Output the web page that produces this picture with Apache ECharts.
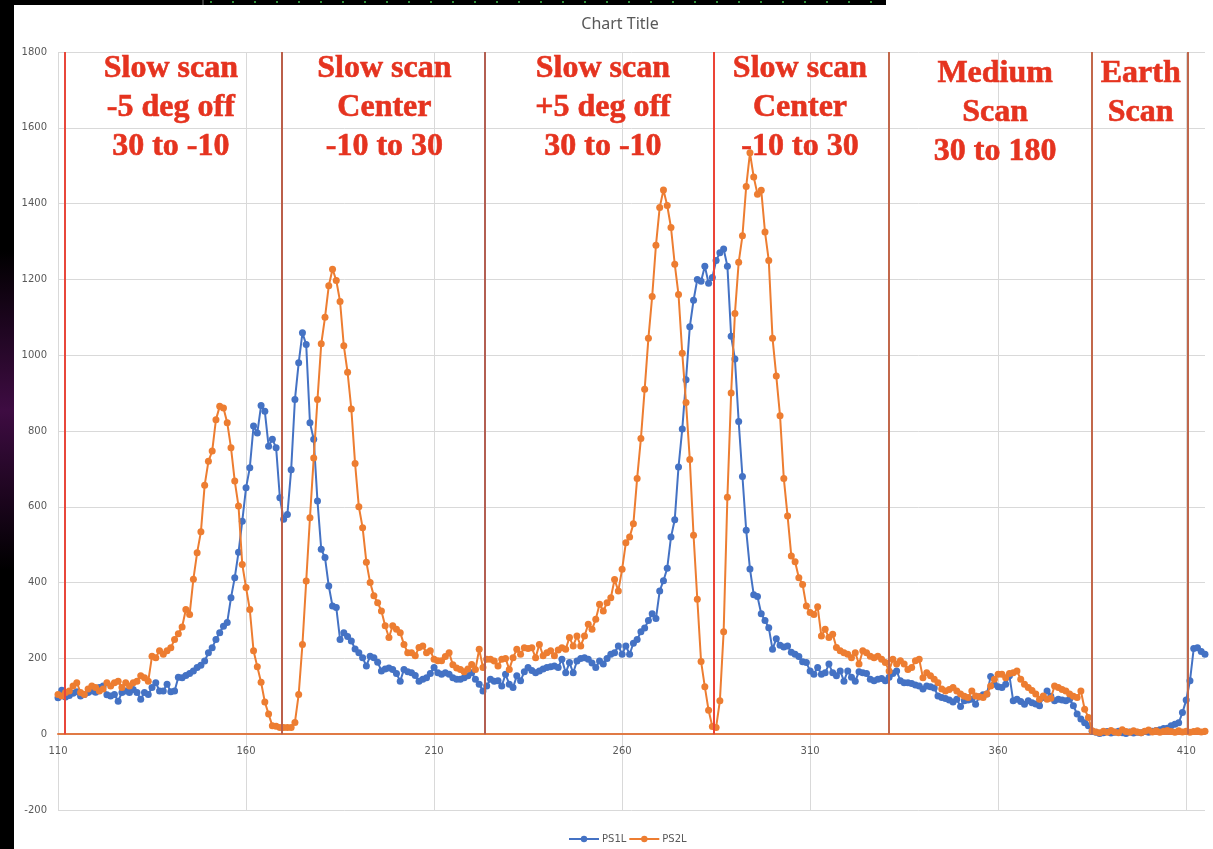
<!DOCTYPE html>
<html>
<head>
<meta charset="utf-8">
<title>PS1L / PS2L scan</title>
<script src="https://cdn.jsdelivr.net/npm/echarts@6/dist/echarts.min.js"></script>
<style>
  html, body { margin: 0; padding: 0; background: #000; }
  #chart { width: 1213px; height: 849px; }
</style>
</head>
<body>
<div id="chart"></div>
<script>
// Sample index 0 corresponds to position 110; one sample per unit step.
const firstSample = 110;

// PS1L readings, positions 110 … 415
const ps1l = [
  96, 116, 98, 102, 108, 112, 101, 105, 110, 114,
  111, 123, 127, 104, 101, 105, 87, 110, 114, 110,
  118, 110, 92, 110, 105, 123, 136, 114, 114, 132,
  112, 114, 150, 149, 155, 160, 167, 176, 182, 193,
  215, 228, 250, 268, 285, 295, 360, 413, 480, 562,
  650, 703, 813, 795, 867, 852, 760, 778, 756, 624,
  567, 580, 698, 883, 980, 1059, 1028, 822, 778, 615,
  488, 466, 391, 338, 334, 250, 268, 258, 246, 225,
  215, 202, 180, 206, 202, 190, 167, 172, 175, 171,
  160, 140, 171, 165, 162, 155, 140, 145, 149, 160,
  176, 162, 158, 162, 158, 149, 145, 145, 149, 154,
  162, 145, 132, 114, 127, 145, 140, 141, 127, 158,
  132, 123, 154, 141, 165, 176, 168, 162, 167, 172,
  176, 178, 180, 176, 198, 162, 189, 162, 193, 200,
  202, 198, 188, 176, 193, 185, 200, 211, 215, 233,
  211, 233, 211, 240, 250, 270, 280, 300, 318, 305,
  378, 405, 438, 520, 566, 705, 805, 935, 1075, 1145,
  1200, 1195, 1235, 1190, 1205, 1250, 1270, 1280, 1235, 1050,
  990, 825, 680, 538, 436, 368, 363, 318, 300, 281,
  224, 252, 235, 230, 233, 216, 211, 205, 191, 189,
  167, 158, 176, 158, 162, 185, 162, 154, 167, 140,
  167, 150, 140, 165, 162, 160, 145, 141, 145, 147,
  141, 150, 160, 167, 141, 136, 136, 134, 130, 127,
  119, 127, 125, 122, 101, 97, 94, 90, 85, 92,
  73, 88, 90, 92, 79, 99, 104, 106, 152, 132,
  125, 123, 132, 154, 88, 92, 86, 79, 88, 83,
  80, 75, 97, 114, 100, 88, 92, 90, 88, 92,
  75, 53, 40, 30, 22, 8, 5, 2, 4, 7,
  3, 5, 8, 4, 2, 6, 3, 5, 4, 7,
  5, 8, 10, 12, 15, 16, 22, 26, 30, 57,
  90, 141, 226, 228, 218, 211
];

// PS2L readings, positions 110 … 415
const ps2l = [
  105, 101, 110, 114, 127, 136, 110, 105, 119, 127,
  123, 114, 119, 136, 127, 136, 140, 123, 136, 127,
  136, 140, 154, 149, 140, 206, 202, 220, 211, 220,
  228, 250, 265, 283, 329, 316, 409, 479, 534, 657,
  720, 747, 830, 865, 861, 822, 756, 668, 602, 448,
  387, 329, 220, 178, 137, 85, 53, 22, 21, 18,
  18, 18, 18, 31, 105, 237, 404, 571, 729, 883,
  1030, 1100, 1183, 1227, 1197, 1142, 1025, 955, 858, 714,
  600, 545, 454, 400, 365, 347, 325, 286, 255, 286,
  277, 268, 237, 215, 215, 207, 229, 233, 215, 220,
  198, 194, 194, 205, 215, 183, 175, 171, 165, 172,
  184, 171, 224, 176, 198, 198, 193, 180, 198, 200,
  171, 202, 224, 211, 228, 226, 228, 202, 237, 207,
  215, 220, 207, 222, 228, 224, 255, 233, 259, 233,
  259, 290, 277, 303, 343, 325, 347, 360, 408, 378,
  435, 505, 520, 555, 675, 780, 910, 1045, 1155, 1290,
  1390, 1436, 1395, 1337, 1240, 1160, 1005, 875, 725, 525,
  356, 192, 125, 63, 20, 18, 88, 270, 625, 900,
  1110, 1245, 1315, 1445, 1534, 1470, 1425, 1435, 1325, 1250,
  1045, 945, 840, 675, 576, 470, 455, 413, 395, 338,
  321, 316, 336, 259, 277, 255, 264, 229, 220, 215,
  211, 202, 215, 185, 220, 215, 206, 202, 206, 198,
  189, 167, 198, 185, 194, 185, 171, 176, 194, 198,
  149, 162, 154, 145, 136, 119, 114, 118, 123, 114,
  106, 100, 97, 114, 101, 99, 97, 106, 127, 145,
  158, 158, 149, 160, 162, 167, 145, 132, 123, 115,
  106, 92, 101, 92, 95, 127, 123, 118, 114, 106,
  100, 97, 114, 66, 44, 9, 6, 4, 8, 5,
  10, 6, 4, 12, 7, 5, 9, 6, 4, 8,
  11, 6, 9, 5, 8, 10, 7, 5, 9, 6,
  8, 5, 7, 9, 6, 8
];

// Scan segment boundaries (x position) and segment captions
const sectionEdges = [111.9, 169.4, 223.4, 284.4, 331.0, 384.8, 410.3];
const sectionTitles = [
  'Slow scan\n-5 deg off\n30 to -10',
  'Slow scan\nCenter\n-10 to 30',
  'Slow scan\n+5 deg off\n30 to -10',
  'Slow scan\nCenter\n-10 to 30',
  'Medium\nScan\n30 to 180',
  'Earth\nScan'
];
const sectionTitleAt = [
  [140.0, 1652], [196.8, 1652], [254.9, 1652],
  [307.3, 1652], [359.2, 1639], [397.9, 1690]
];

const edgeColors = ['#e8473b', '#bb5f4a', '#b35f52', '#ec4436', '#c2684b', '#c2684b', '#c0674c'];
const blue = '#4472C4';
const orange = '#ED7D31';
const captionRed = '#e5331f';
const axisText = { color: '#595959', fontSize: 10, fontFamily: 'DejaVu Sans' };

// grid geometry: the category axis sits on the value 0
const gridTop = 52, gridBottom = 39, chartHeight = 849;
const yMin = -200, yMax = 1800;
const zeroOffset = (chartHeight - gridTop - gridBottom) * (0 - yMin) / (yMax - yMin);

const toPoints = arr => arr.map((v, i) => [firstSample + i, v]);

const chart = echarts.init(document.getElementById('chart'), null, { renderer: 'canvas' });

chart.setOption({
  animation: false,
  backgroundColor: '#ffffff',
  graphic: [
    // dark surround at the left and top edge
    { type: 'rect', z: 100, silent: true, shape: { x: 0, y: 0, width: 14, height: 849 }, style: { fill: '#000' } },
    { type: 'rect', z: 101, silent: true, shape: { x: 0, y: 250, width: 14, height: 320 },
      style: { fill: new echarts.graphic.LinearGradient(0, 0, 0, 1, [
        { offset: 0, color: '#000' }, { offset: 0.5, color: '#3e0c42' }, { offset: 1, color: '#000' }
      ]) } },
    { type: 'rect', z: 100, silent: true, shape: { x: 0, y: 0, width: 886, height: 5 }, style: { fill: '#000' } },
    { type: 'line', z: 102, silent: true, shape: { x1: 210, y1: 2, x2: 880, y2: 2 },
      style: { stroke: '#2f8f3a', lineWidth: 2, lineDash: [2, 20] } },
    { type: 'line', z: 102, silent: true, shape: { x1: 203, y1: 0, x2: 203, y2: 5 },
      style: { stroke: '#777', lineWidth: 1 } },
    // chart title
    { type: 'text', z: 10, x: 620, y: 24,
      style: { text: 'Chart Title', fill: '#595959', fontSize: 16, fontFamily: 'Noto Sans',
               align: 'center', verticalAlign: 'middle' } }
  ],
  grid: { left: 58, right: 8, top: gridTop, bottom: gridBottom, containLabel: false, outerBoundsMode: 'none' },
  legend: {
    data: ['PS1L', 'PS2L'],
    left: 563, top: 829,
    itemWidth: 30, itemHeight: 8, itemGap: 2,
    textStyle: { color: '#595959', fontSize: 10, fontFamily: 'DejaVu Sans', padding: [0, 0, 0, -2] }
  },
  xAxis: {
    type: 'value', min: 110, max: 415, interval: 50,
    offset: -zeroOffset,
    axisLine: { show: true, onZero: false, lineStyle: { color: '#e07a45', width: 2 } },
    axisTick: { show: false },
    axisLabel: Object.assign({ margin: 12, showMaxLabel: false,
      formatter: v => (v - 110) % 50 === 0 ? String(v) : '' }, axisText),
    splitLine: { show: true, showMaxLine: false, lineStyle: { color: '#d9d9d9', width: 1 } }
  },
  yAxis: {
    type: 'value', min: yMin, max: yMax, interval: 200,
    axisLine: { show: false },
    axisTick: { show: false },
    axisLabel: Object.assign({ margin: 11, formatter: v => String(v) }, axisText),
    splitLine: { show: true, lineStyle: { color: '#d9d9d9', width: 1 } }
  },
  series: [
    {
      name: 'PS1L', type: 'line', data: toPoints(ps1l),
      symbol: 'circle', symbolSize: 7, showSymbol: true,
      lineStyle: { width: 2, color: blue }, itemStyle: { color: blue },
      emphasis: { disabled: true }, z: 3
    },
    {
      name: 'PS2L', type: 'line', data: toPoints(ps2l),
      symbol: 'circle', symbolSize: 7, showSymbol: true,
      lineStyle: { width: 2, color: orange }, itemStyle: { color: orange },
      emphasis: { disabled: true }, z: 4
    },
    {
      // segment boundaries and captions
      name: 'segments', type: 'scatter', silent: true, z: 6,
      data: sectionTitleAt.map((p, i) => ({ value: p, name: sectionTitles[i] })),
      symbolSize: 1, itemStyle: { color: 'rgba(0,0,0,0)' },
      label: {
        show: true, position: 'inside', formatter: '{b}',
        color: captionRed, fontFamily: '"Liberation Serif", "Times New Roman", serif', fontWeight: 700,
        fontSize: 32, lineHeight: 39, align: 'center', verticalAlign: 'middle',
        textBorderColor: captionRed, textBorderWidth: 0.6,
        opacity: 1
      },
      markLine: {
        silent: true, symbol: ['none', 'none'], animation: false,
        label: { show: false },
        data: sectionEdges.map((x, i) => [
          { coord: [x, 0], lineStyle: { color: edgeColors[i], width: 2, type: 'solid' } },
          { coord: [x, 1800] }
        ])
      }
    }
  ]
});
</script>
</body>
</html>
